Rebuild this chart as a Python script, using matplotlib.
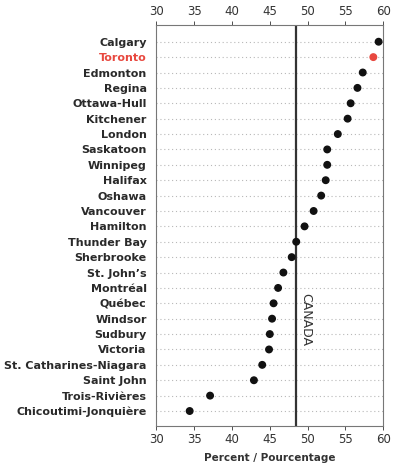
import matplotlib.pyplot as plt

cities = ["Calgary", "Toronto", "Edmonton", "Regina", "Ottawa-Hull", "Kitchener",
          "London", "Saskatoon", "Winnipeg", "Halifax", "Oshawa", "Vancouver",
          "Hamilton", "Thunder Bay", "Sherbrooke", "St. John\u2019s", "Montr\u00e9al",
          "Qu\u00e9bec", "Windsor", "Sudbury", "Victoria", "St. Catharines-Niagara",
          "Saint John", "Trois-Rivi\u00e8res", "Chicoutimi-Jonqui\u00e8re"]
percent = [59.4, 58.7, 57.3, 56.6, 55.7, 55.3, 54.0, 52.6, 52.6, 52.4, 51.8, 50.8,
           49.6, 48.5, 47.9, 46.8, 46.1, 45.5, 45.3, 45.0, 44.9, 44.0, 42.9, 37.1, 34.4]
canada = 48.5
highlight = "Toronto"


def main():
    fig = plt.figure(figsize=(3.95, 4.65), dpi=100)
    ax = fig.add_axes([0.396, 0.084, 0.574, 0.862])

    y = list(range(len(cities)))
    for i in y:
        ax.axhline(i, color="#b8b8b8", lw=0.8, ls=(0, (1, 2.5)), zorder=1)

    ax.axvline(canada, color="#333333", lw=1.6, zorder=2)
    ax.text(canada + 0.45, 16.3, "CANADA", rotation=270, ha="left", va="top",
            fontsize=9, color="#333333")

    # Toronto en rouge
    colors = ["#e8483f" if c == highlight else "#111111" for c in cities]
    ax.scatter(percent, y, s=22, c=colors, zorder=3)

    ax.set_xlim(30, 60)
    ax.set_ylim(24.97, -1.08)
    ax.set_xticks(range(30, 61, 5))
    ax.set_yticks(y)
    ax.set_yticklabels(cities)
    for lab in ax.get_yticklabels():
        lab.set_color("#e8483f" if lab.get_text() == highlight else "#2a2a2a")
        lab.set_fontweight("bold")
    ax.tick_params(axis="y", length=0, pad=7, labelsize=8)
    ax.tick_params(axis="x", top=True, labeltop=True, length=3, width=0.6,
                   labelsize=8.5, colors="#333333", pad=2)
    for s in ax.spines.values():
        s.set_color("#777777")
        s.set_linewidth(0.8)

    ax.set_xlabel("Percent / Pourcentage", fontsize=7.5, color="#333333",
                  fontweight="bold", labelpad=5)

    plt.savefig("out.png", dpi=100)


if __name__ == '__main__':
    main()
